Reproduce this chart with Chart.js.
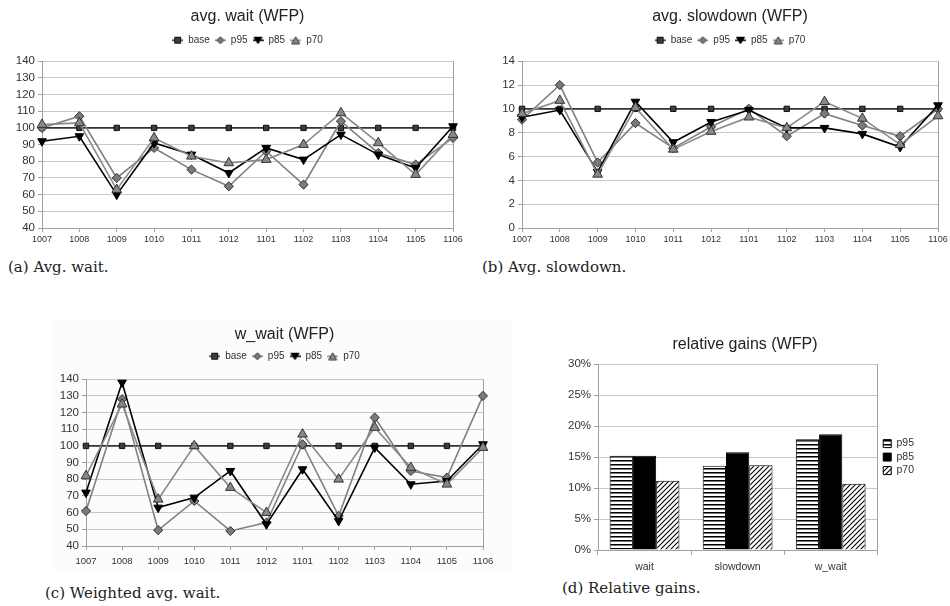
<!DOCTYPE html>
<html>
<head>
<meta charset="utf-8">
<script src="https://cdn.jsdelivr.net/npm/chart.js@4.4.1/dist/chart.umd.min.js"></script>
<style>
  body { margin: 0; background: #fff; width: 950px; height: 606px; position: relative; overflow: hidden; }
  .panel { position: absolute; }
  .panel canvas { display: block; }
  .cap { position: absolute; font-family: "DejaVu Serif", serif; font-size: 15px; line-height: 18px; color: #222; white-space: nowrap; }
  .shade { position: absolute; background: #fcfcfc; }
</style>
</head>
<body>
<div class="shade" style="left:53px;top:320px;width:460px;height:250px"></div>

<div class="panel" style="left:0;top:0"><canvas id="chart-wait" width="475" height="250"></canvas></div>
<div class="panel" style="left:475px;top:0"><canvas id="chart-slowdown" width="475" height="250"></canvas></div>
<div class="panel" style="left:0;top:300px"><canvas id="chart-wwait" width="540" height="268"></canvas></div>
<div class="panel" style="left:540px;top:300px"><canvas id="chart-gains" width="410" height="278"></canvas></div>

<div class="cap" style="left:8px;top:258px">(a) Avg. wait.</div>
<div class="cap" style="left:482px;top:258px">(b) Avg. slowdown.</div>
<div class="cap" style="left:45px;top:584px">(c) Weighted avg. wait.</div>
<div class="cap" style="left:562px;top:579px">(d) Relative gains.</div>

<script>
// workload months on the x axis of the three line panels
const months = ["1007", "1008", "1009", "1010", "1011", "1012", "1101", "1102", "1103", "1104", "1105", "1106"];
const seriesNames = ["base", "p95", "p85", "p70"];

// avg. wait, normalised to base = 100
const waitBase = [100, 100, 100, 100, 100, 100, 100, 100, 100, 100, 100, 100];
const waitP95 = [100, 107, 70, 88, 75, 65, 86, 66, 104, 85, 78, 94];
const waitP85 = [92, 95, 60, 91, 84, 73, 88, 81, 96, 84, 76, 101];
const waitP70 = [102, 103, 63, 94, 83, 79, 81, 90, 109, 91, 72, 96];

// avg. slowdown, base = 10
const slowBase = [10, 10, 10, 10, 10, 10, 10, 10, 10, 10, 10, 10];
const slowP95 = [9.1, 12.0, 5.5, 8.8, 6.7, 8.5, 10.0, 7.7, 9.6, 8.6, 7.7, 10.0];
const slowP85 = [9.3, 9.9, 4.7, 10.6, 7.2, 8.9, 9.9, 8.4, 8.4, 7.9, 6.8, 10.3];
const slowP70 = [9.6, 10.7, 4.5, 10.1, 6.6, 8.1, 9.3, 8.4, 10.6, 9.2, 7.0, 9.4];

// weighted avg. wait, base = 100
const wwaitBase = [100, 100, 100, 100, 100, 100, 100, 100, 100, 100, 100, 100];
const wwaitP95 = [61, 128, 49.5, 67, 49, 54, 101, 58, 117, 85, 81, 130];
const wwaitP85 = [72, 138, 63, 69, 85, 53, 86, 55, 99, 77, 79, 101];
const wwaitP70 = [82, 125, 68, 100, 75, 60, 107, 80, 111, 87, 77, 99];

// relative gains in percent
const gainMetrics = ["wait", "slowdown", "w_wait"];
const gainP95 = [15.2, 13.6, 17.9];
const gainP85 = [15.2, 15.8, 18.7];
const gainP70 = [11.2, 13.7, 10.7];

const FONT = "'Liberation Sans', Arial, sans-serif";
const AXIS = "#a0a0a0";
const GRID = "#c8c8c8";
const TEXT = "#333";

// marker / line look for each series (base, p95, p85, p70)
const looks = [
  { line: "#333333", fill: "#3c3c3c", edge: "#111", style: "rect", radius: 3.8, rotation: 0, order: 4 },
  { line: "#808080", fill: "#7a7a7a", edge: "#333", style: "rectRot", radius: 4.6, rotation: 0, order: 3 },
  { line: "#000000", fill: "#000000", edge: "#000", style: "triangle", radius: 5, rotation: 180, order: 2 },
  { line: "#8a8a8a", fill: "#888888", edge: "#333", style: "triangle", radius: 5.6, rotation: 0, order: 1 },
];

// little "line + marker" icons used in the legends of the line panels
function legendIcon(look) {
  const c = document.createElement("canvas");
  c.width = 11; c.height = 9;
  const g = c.getContext("2d");
  g.strokeStyle = look.line; g.lineWidth = 1.5;
  g.beginPath(); g.moveTo(0, 4.5); g.lineTo(11, 4.5); g.stroke();
  g.fillStyle = look.fill; g.strokeStyle = look.edge; g.lineWidth = 1;
  g.beginPath();
  if (look.style === "rect") {
    g.rect(2.5, 1.5, 6, 6);
  } else if (look.style === "rectRot") {
    g.moveTo(5.5, 1); g.lineTo(9, 4.5); g.lineTo(5.5, 8); g.lineTo(2, 4.5); g.closePath();
  } else if (look.rotation === 180) {
    g.moveTo(1.5, 1.5); g.lineTo(9.5, 1.5); g.lineTo(5.5, 8); g.closePath();
  } else {
    g.moveTo(5.5, 1); g.lineTo(9.5, 8); g.lineTo(1.5, 8); g.closePath();
  }
  g.fill(); g.stroke();
  return c;
}
const icons = looks.map(legendIcon);

function lineDatasets(values) {
  return values.map((data, i) => {
    const lk = looks[i];
    return {
      label: seriesNames[i],
      data,
      order: lk.order,
      borderColor: lk.line,
      borderWidth: 1.6,
      pointStyle: lk.style,
      pointRotation: lk.rotation,
      pointRadius: lk.radius,
      pointBackgroundColor: lk.fill,
      pointBorderColor: lk.edge,
      pointBorderWidth: 1,
      tension: 0,
      fill: false,
    };
  });
}

function lineChart(id, title, values, y, box) {
  const last = months.length - 1;
  return new Chart(document.getElementById(id), {
    type: "line",
    data: { labels: months, datasets: lineDatasets(values) },
    options: {
      responsive: false,
      animation: false,
      layout: { padding: { left: 0, right: box.right, top: 0, bottom: 0 } },
      plugins: {
        tooltip: { enabled: false },
        title: {
          display: true, text: title, fullSize: false, color: "#222",
          font: { family: FONT, size: 16, weight: "normal" },
          padding: { top: box.titleTop, bottom: box.titleBottom },
        },
        legend: {
          display: true, position: "top", fullSize: false,
          labels: {
            usePointStyle: true, pointStyleWidth: 11, boxHeight: 9,
            padding: 5, color: TEXT,
            font: { family: FONT, size: 10 },
            sort: (a, b) => a.datasetIndex - b.datasetIndex,
            generateLabels(chart) {
              const items = Chart.defaults.plugins.legend.labels.generateLabels(chart);
              items.forEach(it => { it.pointStyle = icons[it.datasetIndex]; it.rotation = 0; });
              return items;
            },
          },
        },
      },
      scales: {
        x: {
          offset: false,
          afterFit(s) { s.height = box.xHeight; },
          border: { color: AXIS, width: 1 },
          grid: {
            color: c => (c.index === last ? AXIS : "transparent"),
            tickColor: AXIS, tickLength: 4, drawOnChartArea: true,
          },
          ticks: { color: TEXT, font: { family: FONT, size: box.xFont }, padding: box.xPad, autoSkip: false, maxRotation: 0 },
        },
        // empty strip between the legend and the plot
        gap: {
          type: "category", position: "top",
          afterFit(s) { s.height = box.gap; },
          grid: { display: false }, border: { display: false }, ticks: { display: false },
        },
        y: {
          min: y.min, max: y.max,
          afterFit(s) { s.width = box.yWidth; },
          border: { color: AXIS, width: 1 },
          grid: { color: GRID, tickColor: AXIS, tickLength: 4 },
          ticks: { stepSize: y.step, autoSkip: false, color: TEXT, font: { family: FONT, size: 11.5 }, padding: 3 },
        },
      },
    },
  });
}

lineChart("chart-wait", "avg. wait (WFP)", [waitBase, waitP95, waitP85, waitP70],
  { min: 40, max: 140, step: 10 },
  { right: 22, yWidth: 42, xHeight: 22, xFont: 9, xPad: 2, titleTop: 7, titleBottom: 4, gap: 6 });

lineChart("chart-slowdown", "avg. slowdown (WFP)", [slowBase, slowP95, slowP85, slowP70],
  { min: 0, max: 14, step: 2 },
  { right: 12, yWidth: 47, xHeight: 22, xFont: 9, xPad: 2, titleTop: 7, titleBottom: 4, gap: 6 });

lineChart("chart-wwait", "w_wait (WFP)", [wwaitBase, wwaitP95, wwaitP85, wwaitP70],
  { min: 40, max: 140, step: 10 },
  { right: 57, yWidth: 86, xHeight: 22, xFont: 9.5, xPad: 6, titleTop: 25, titleBottom: 2, gap: 8 });

// fill patterns for the bar panel
function stripes(kind) {
  const c = document.createElement("canvas");
  const g = c.getContext("2d");
  if (kind === "h") {
    c.width = 4; c.height = 4;
    g.fillStyle = "#fff"; g.fillRect(0, 0, 4, 4);
    g.fillStyle = "#000"; g.fillRect(0, 0, 4, 1);
    g.fillStyle = "#777"; g.fillRect(0, 1, 4, 1);
  } else {
    c.width = 5; c.height = 5;
    g.fillStyle = "#fff"; g.fillRect(0, 0, 5, 5);
    g.strokeStyle = "#000"; g.lineWidth = 1.1;
    g.beginPath();
    g.moveTo(0, 5); g.lineTo(5, 0);
    g.moveTo(-1, 1); g.lineTo(1, -1);
    g.moveTo(4, 6); g.lineTo(6, 4);
    g.stroke();
  }
  return g.createPattern(c, "repeat");
}
const fillP95 = stripes("h");
const fillP70 = stripes("d");

new Chart(document.getElementById("chart-gains"), {
  type: "bar",
  data: {
    labels: gainMetrics,
    datasets: [
      { label: "p95", data: gainP95, backgroundColor: fillP95 },
      { label: "p85", data: gainP85, backgroundColor: "#000" },
      { label: "p70", data: gainP70, backgroundColor: fillP70 },
    ].map(d => Object.assign(d, { borderColor: "#000", borderWidth: 1, categoryPercentage: 0.75, barPercentage: 1 })),
  },
  options: {
    responsive: false,
    animation: false,
    layout: { padding: 0 },
    plugins: {
      tooltip: { enabled: false },
      title: {
        display: true, text: "relative gains (WFP)", color: "#222",
        font: { family: FONT, size: 16, weight: "normal" },
        padding: { top: 35, bottom: 10 },
      },
      legend: {
        display: true, position: "right", fullSize: false,
        labels: { boxWidth: 8, boxHeight: 8, padding: 3, color: TEXT, font: { family: FONT, size: 10.5 } },
      },
    },
    scales: {
      x: {
        afterFit(s) { s.height = 28; },
        border: { color: AXIS, width: 1 },
        grid: {
          offset: true,
          color: c => (c.type === "tick" ? "transparent" : AXIS),
          tickColor: AXIS, tickLength: 5,
        },
        ticks: { color: TEXT, font: { family: FONT, size: 10.5 }, padding: 6 },
      },
      y: {
        min: 0, max: 30,
        afterFit(s) { s.width = 58; },
        border: { color: AXIS, width: 1 },
        grid: { color: GRID, tickColor: AXIS, tickLength: 4 },
        ticks: { stepSize: 5, color: TEXT, font: { family: FONT, size: 11.5 }, padding: 3, callback: v => v + "%" },
      },
      // spacer between the plot and the legend
      gap: {
        type: "linear", position: "right",
        afterFit(s) { s.width = 3; },
        grid: { display: false }, border: { display: false }, ticks: { display: false },
      },
      // margin to the right of the legend
      margin: {
        type: "linear", position: "right", weight: 2000,
        afterFit(s) { s.width = 26; },
        grid: { display: false }, border: { display: false }, ticks: { display: false },
      },
    },
  },
});
</script>
</body>
</html>
